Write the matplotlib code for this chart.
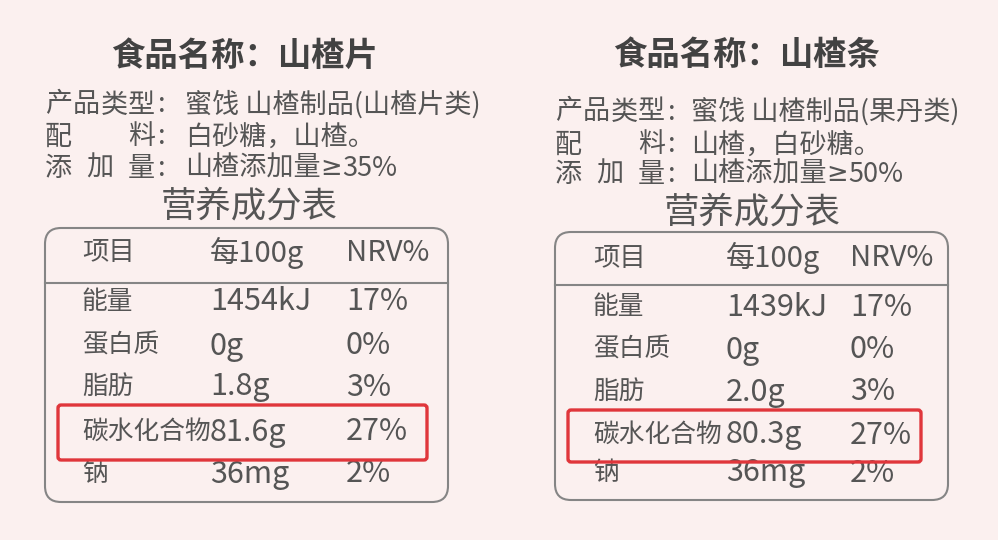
import matplotlib

matplotlib.use("Agg")
import matplotlib.pyplot as plt
from matplotlib.patches import FancyBboxPatch

plt.rcParams["font.family"] = ["Noto Sans CJK SC", "DejaVu Sans"]

# --- label contents ---------------------------------------------------------
titles = ["食品名称：山楂片", "食品名称：山楂条"]
info_labels = ["产品类型", "配料", "添加量"]
info_left = ["蜜饯 山楂制品(山楂片类)", "白砂糖，山楂。", "山楂添加量≥35%"]
info_right = ["蜜饯 山楂制品(果丹类)", "山楂，白砂糖。", "山楂添加量≥50%"]
subtitle = "营养成分表"
table_header = ["项目", "每100g", "NRV%"]
items = ["能量", "蛋白质", "脂肪", "碳水化合物", "钠"]
per100g_left = ["1454kJ", "0g", "1.8g", "81.6g", "36mg"]
nrv_left = ["17%", "0%", "3%", "27%", "2%"]
per100g_right = ["1439kJ", "0g", "2.0g", "80.3g", "36mg"]
nrv_right = ["17%", "0%", "3%", "27%", "2%"]

# --- pixel layout of each label card ----------------------------------------
LAYOUT = [
    dict(title=(245, 56), info_x=45, colon_x=162, value_x=185,
         info_y=[105, 137, 168], sub=(249, 207),
         box=(45, 228, 448, 502), sep_y=283, head_y=253,
         cols=[82, 210, 346], rows=[302, 346, 387, 432, 474],
         red=(58, 405, 427, 460)),
    dict(title=(747, 56), info_x=555, colon_x=672, value_x=691,
         info_y=[112, 145, 174], sub=(752, 212),
         box=(555, 232, 948, 500), sep_y=285, head_y=258,
         cols=[593, 726, 850], rows=[307, 350, 392, 435, 473],
         red=(568, 410, 921, 462)),
]

BG = "#fbf0ef"
TEXT = "#555555"
DARK = "#424242"
LINE = "#858585"
RED = "#e0363b"
LABEL_W = 110


def draw_label_chars(ax, text, x0, y, size):
    # spread the characters over a fixed width (distributed alignment)
    n = len(text)
    step = (LABEL_W - 27) / (n - 1)
    for i, ch in enumerate(text):
        ax.text(x0 + i * step, y, ch, fontsize=size, color=TEXT,
                ha="left", va="center")


def draw_value(ax, x, y, val, size):
    # "≥" looks slanted in the CJK font, so draw that part in DejaVu Sans
    if "≥" not in val:
        ax.text(x, y, val, fontsize=size, color=TEXT, ha="left", va="center")
        return
    head, tail = val.split("≥")
    t = ax.text(x, y, head, fontsize=size, color=TEXT, ha="left", va="center")
    ax.annotate("≥", xy=(1, 0.5), xycoords=t, fontsize=size - 1, color=TEXT,
                ha="left", va="center", family="DejaVu Sans")
    t2 = ax.annotate("≥", xy=(1, 0.5), xycoords=t, fontsize=size - 1,
                     color="none", ha="left", va="center", family="DejaVu Sans")
    ax.annotate(tail, xy=(1, 0.5), xycoords=t2, fontsize=size, color=TEXT,
                ha="left", va="center")


def draw_panel(ax, lay, title, info, per100g, nrv):
    ax.text(*lay["title"], title, fontsize=24, fontweight="bold", color=DARK,
            ha="center", va="center")

    for lab, val, y in zip(info_labels, info, lay["info_y"]):
        draw_label_chars(ax, lab, lay["info_x"], y, 19.5)
        ax.text(lay["colon_x"], y, ":", fontsize=19.5, color=TEXT,
                ha="center", va="center")
        draw_value(ax, lay["value_x"], y, val, 19.5)

    ax.text(*lay["sub"], subtitle, fontsize=25.5, color=TEXT,
            ha="center", va="center")

    x0, y0, x1, y1 = lay["box"]
    ax.add_patch(FancyBboxPatch((x0, y0), x1 - x0, y1 - y0,
                                boxstyle="round,pad=0,rounding_size=16",
                                fill=False, edgecolor=LINE, linewidth=1.5))
    ax.plot([x0, x1], [lay["sep_y"], lay["sep_y"]], color=LINE, linewidth=1.5)

    c1, c2, c3 = lay["cols"]
    hy = lay["head_y"]
    ax.text(c1, hy, table_header[0], fontsize=19, color=TEXT, ha="left", va="center")
    ax.text(c2, hy, table_header[1], fontsize=21, color=TEXT, ha="left", va="center")
    ax.text(c3, hy, table_header[2], fontsize=21, color=TEXT, ha="left", va="center")

    for item, v, p, y in zip(items, per100g, nrv, lay["rows"]):
        ax.text(c1, y, item, fontsize=18.5, color=TEXT, ha="left", va="center")
        ax.text(c2, y, v, fontsize=22, color=TEXT, ha="left", va="center")
        ax.text(c3, y, p, fontsize=22, color=TEXT, ha="left", va="center")

    rx0, ry0, rx1, ry1 = lay["red"]
    ax.add_patch(FancyBboxPatch((rx0, ry0), rx1 - rx0, ry1 - ry0,
                                boxstyle="round,pad=0,rounding_size=3",
                                fill=False, edgecolor=RED, linewidth=2.4,
                                zorder=5))


fig = plt.figure(figsize=(9.98, 5.40), dpi=100, facecolor=BG)
ax = fig.add_axes([0, 0, 1, 1])
ax.set_xlim(0, 998)
ax.set_ylim(540, 0)
ax.set_facecolor(BG)
ax.axis("off")

draw_panel(ax, LAYOUT[0], titles[0], info_left, per100g_left, nrv_left)
draw_panel(ax, LAYOUT[1], titles[1], info_right, per100g_right, nrv_right)

fig.savefig("out.png", dpi=100, facecolor=BG)
